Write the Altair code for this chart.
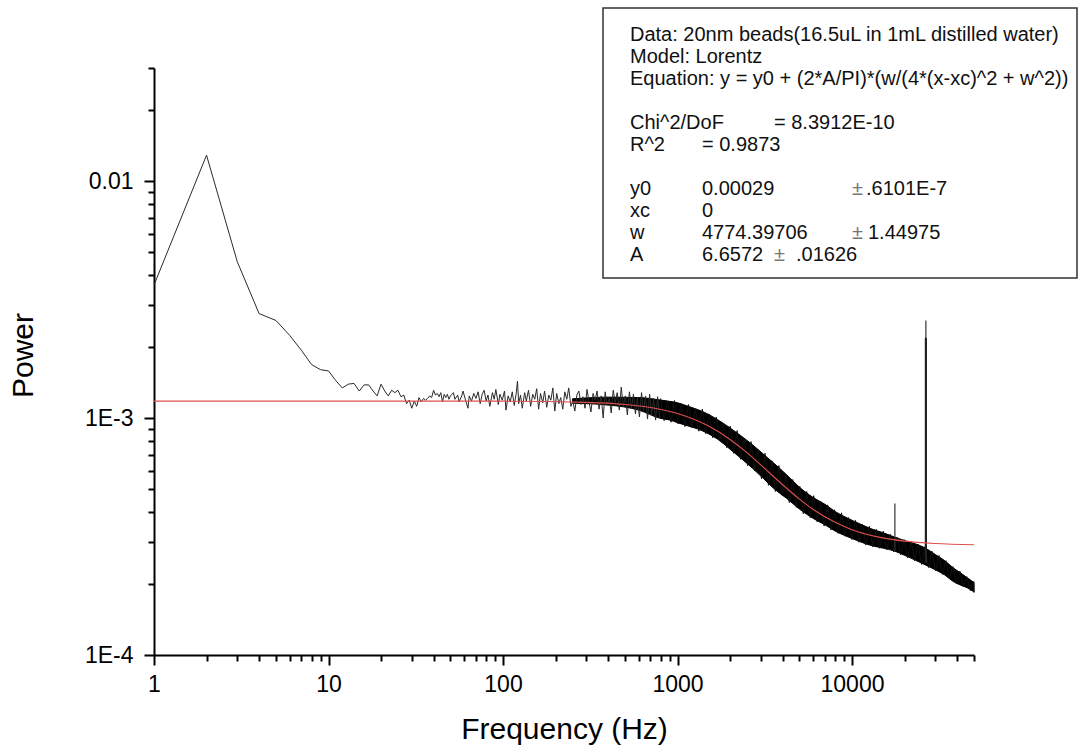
import altair as alt
import pandas as pd

# ---------------- data ----------------
low_freq = list(range(1, 51))
low_power = [3.64e-3, 1.286e-2, 4.57e-3, 2.76e-3, 2.58e-3, 2.23e-3, 1.93e-3, 1.68e-3, 1.60e-3, 1.58e-3,
             1.44e-3, 1.34e-3, 1.39e-3, 1.40e-3, 1.30e-3, 1.38e-3, 1.38e-3, 1.30e-3, 1.24e-3, 1.39e-3,
             1.30e-3, 1.24e-3, 1.31e-3, 1.28e-3, 1.31e-3, 1.23e-3, 1.25e-3, 1.15e-3, 1.19e-3, 1.10e-3,
             1.18e-3, 1.12e-3, 1.22e-3, 1.17e-3, 1.21e-3, 1.19e-3, 1.21e-3, 1.24e-3, 1.22e-3, 1.31e-3,
             1.25e-3, 1.27e-3, 1.23e-3, 1.28e-3, 1.17e-3, 1.26e-3, 1.22e-3, 1.26e-3, 1.20e-3, 1.24e-3]

mid_freq = [52, 53, 55, 56, 58, 59, 61, 63, 64, 66, 68, 70, 72, 74, 76, 78, 80, 82, 84, 87,
            89, 91, 94, 96, 99, 102, 104, 107, 110, 113, 116, 119, 121, 123, 126, 129, 133, 136, 140, 144,
            148, 152, 156, 160, 164, 169, 173, 178, 183, 188, 193, 198, 203, 209, 214, 220, 226, 232, 238, 245,
            251, 258, 265, 272, 280, 287, 295, 303, 311, 319, 328, 337, 346, 355, 365, 375, 385, 395, 406, 417,
            428, 440, 451, 464, 476, 489, 502, 516, 530, 544, 559, 574, 589, 605, 622, 638, 656, 673, 692, 710,
            729, 749, 769, 790]
mid_power = [1.28e-3, 1.20e-3, 1.25e-3, 1.17e-3, 1.24e-3, 1.30e-3, 1.19e-3, 1.10e-3, 1.24e-3, 1.18e-3,
             1.27e-3, 1.21e-3, 1.29e-3, 1.15e-3, 1.26e-3, 1.31e-3, 1.18e-3, 1.25e-3, 1.12e-3, 1.28e-3,
             1.20e-3, 1.32e-3, 1.14e-3, 1.26e-3, 1.19e-3, 1.30e-3, 1.08e-3, 1.24e-3, 1.17e-3, 1.29e-3,
             1.13e-3, 1.27e-3, 1.43e-3, 1.15e-3, 1.25e-3, 1.10e-3, 1.28e-3, 1.18e-3, 1.31e-3, 1.12e-3,
             1.26e-3, 1.20e-3, 1.33e-3, 1.09e-3, 1.27e-3, 1.16e-3, 1.30e-3, 1.11e-3, 1.25e-3, 1.19e-3,
             1.34e-3, 1.07e-3, 1.27e-3, 1.15e-3, 1.22e-3, 1.09e-3, 1.29e-3, 1.20e-3, 1.34e-3, 1.12e-3,
             1.18e-3, 1.07e-3, 1.25e-3, 1.30e-3, 1.14e-3, 1.23e-3, 1.10e-3, 1.32e-3, 1.17e-3, 1.06e-3,
             1.27e-3, 1.19e-3, 1.30e-3, 1.09e-3, 1.24e-3, 1.00e-3, 1.29e-3, 1.13e-3, 1.21e-3, 1.05e-3,
             1.31e-3, 1.16e-3, 1.28e-3, 1.08e-3, 1.35e-3, 1.12e-3, 1.24e-3, 1.03e-3, 1.29e-3, 1.10e-3,
             1.26e-3, 1.04e-3, 1.22e-3, 1.01e-3, 1.28e-3, 1.07e-3, 1.24e-3, 0.99e-3, 1.26e-3, 1.03e-3,
             1.21e-3, 0.98e-3, 1.23e-3, 1.00e-3]

hf_freq = [800, 838, 877, 918, 961, 1006, 1053, 1103, 1155, 1209, 1266, 1325, 1387, 1452, 1521, 1592,
           1667, 1745, 1827, 1913, 2003, 2097, 2196, 2299, 2407, 2520, 2638, 2762, 2892, 3028, 3170, 3319,
           3475, 3638, 3809, 3988, 4176, 4372, 4577, 4792, 5018, 5253, 5500, 5759, 6029, 6313, 6609, 6920,
           7245, 7585, 7942, 8315, 8706, 9115, 9543, 9992, 10461, 10953, 11468, 12007, 12571, 13162, 13781, 14428,
           15107, 15817, 16560, 17339, 18154, 19007, 19900, 20836, 21815, 22840, 23914, 25038, 26215, 27447, 28737, 30088,
           31502, 32982, 34532, 36155, 37855, 39634, 41497, 43447, 45489, 47627, 49866, 50000]
hf_power = [1.21e-3, 0.975e-3, 1.18e-3, 0.96e-3, 1.185e-3, 0.945e-3, 1.15e-3, 0.92e-3, 1.14e-3, 0.91e-3,
            1.09e-3, 0.88e-3, 1.09e-3, 0.86e-3, 1.04e-3, 0.825e-3, 1.01e-3, 0.80e-3, 0.95e-3, 0.75e-3,
            0.925e-3, 0.71e-3, 0.885e-3, 0.67e-3, 0.82e-3, 0.63e-3, 0.795e-3, 0.60e-3, 0.74e-3, 0.555e-3,
            0.71e-3, 0.52e-3, 0.66e-3, 0.49e-3, 0.63e-3, 0.47e-3, 0.58e-3, 0.44e-3, 0.55e-3, 0.42e-3,
            0.515e-3, 0.395e-3, 0.49e-3, 0.38e-3, 0.47e-3, 0.365e-3, 0.445e-3, 0.35e-3, 0.43e-3, 0.337e-3,
            0.41e-3, 0.326e-3, 0.398e-3, 0.317e-3, 0.38e-3, 0.307e-3, 0.37e-3, 0.299e-3, 0.356e-3, 0.291e-3,
            0.349e-3, 0.286e-3, 0.339e-3, 0.282e-3, 0.333e-3, 0.278e-3, 0.323e-3, 0.272e-3, 0.314e-3, 0.265e-3,
            0.307e-3, 0.257e-3, 0.302e-3, 0.25e-3, 0.294e-3, 0.241e-3, 0.287e-3, 0.234e-3, 0.274e-3, 0.227e-3,
            0.263e-3, 0.219e-3, 0.25e-3, 0.21e-3, 0.236e-3, 0.20e-3, 0.226e-3, 0.194e-3, 0.214e-3, 0.187e-3,
            0.204e-3, 0.183e-3]

band_freq = [250, 400, 600, 800, 900, 1000, 1150, 1300, 1500, 1700, 2000, 2300, 2700, 3100, 3600, 4200,
             5000, 6000, 7000, 8000, 9500, 11000, 13000, 15000, 17600, 20000, 23000, 26500, 30000, 34000,
             38000, 42000, 46000, 50000]
band_upper = [1.205e-3, 1.225e-3, 1.22e-3, 1.191e-3, 1.176e-3, 1.160e-3, 1.121e-3, 1.087e-3, 1.0376e-3, 0.9833e-3,
              0.9083e-3, 0.8436e-3, 0.7693e-3, 0.7051e-3, 0.6409e-3, 0.5782e-3, 0.5103e-3, 0.4616e-3, 0.4323e-3,
              0.4032e-3, 0.377e-3, 0.3585e-3, 0.340e-3, 0.3286e-3, 0.3142e-3, 0.3041e-3, 0.2948e-3, 0.2819e-3,
              0.2655e-3, 0.250e-3, 0.2332e-3, 0.2217e-3, 0.2112e-3, 0.2023e-3]
band_lower = [1.155e-3, 1.135e-3, 1.08e-3, 0.996e-3, 0.981e-3, 0.956e-3, 0.9255e-3, 0.900e-3, 0.8592e-3, 0.8135e-3,
              0.7385e-3, 0.678e-3, 0.6122e-3, 0.5565e-3, 0.5008e-3, 0.4593e-3, 0.4127e-3, 0.3767e-3, 0.3542e-3,
              0.3335e-3, 0.315e-3, 0.3016e-3, 0.2892e-3, 0.2827e-3, 0.2743e-3, 0.2634e-3, 0.2515e-3, 0.2394e-3,
              0.229e-3, 0.2176e-3, 0.2043e-3, 0.197e-3, 0.1917e-3, 0.1845e-3]

spike_freq = [17600, 26500]
spike_low = [2.75e-4, 2.45e-4]
spike_high = [4.36e-4, 2.58e-3]
thick_spike_freq = [26500]
thick_spike_low = [2.45e-4]
thick_spike_high = [2.18e-3]

fit_freq = [1, 10, 100, 300, 500, 700, 1000, 1500, 2000, 2500, 3000, 4000, 5000, 6000, 8000,
            10000, 15000, 20000, 30000, 50000]
fit_power = [1.178e-3, 1.178e-3, 1.178e-3, 1.164e-3, 1.141e-3, 1.108e-3, 1.046e-3, 0.927e-3, 0.812e-3,
             0.714e-3, 0.634e-3, 0.523e-3, 0.455e-3, 0.411e-3, 0.363e-3, 0.338e-3, 0.312e-3, 0.3025e-3,
             0.2956e-3, 0.292e-3]

x_ticks = [1, 2, 3, 4, 5, 6, 7, 8, 9, 10, 20, 30, 40, 50, 60, 70, 80, 90,
           100, 200, 300, 400, 500, 600, 700, 800, 900,
           1000, 2000, 3000, 4000, 5000, 6000, 7000, 8000, 9000,
           10000, 20000, 30000, 40000, 50000]
y_ticks = [0.0001, 0.0002, 0.0003, 0.0004, 0.0005, 0.0006, 0.0007, 0.0008, 0.0009,
           0.001, 0.002, 0.003, 0.004, 0.005, 0.006, 0.007, 0.008, 0.009,
           0.01, 0.02, 0.03]

ann_lines = [
    ("Data: 20nm beads(16.5uL in 1mL distilled water)", 630, 41),
    ("Model: Lorentz", 630, 63),
    ("Equation: y = y0 + (2*A/PI)*(w/(4*(x-xc)^2 + w^2))", 630, 85),
    ("Chi^2/DoF", 630, 129), ("= 8.3912E-10", 774, 129),
    ("R^2", 630, 151), ("=  0.9873", 702, 151),
    ("y0", 630, 195), ("0.00029", 702, 195), ("\u00b1", 852, 195), (".6101E-7", 866, 195),
    ("xc", 630, 217), ("0", 702, 217),
    ("w", 630, 239), ("4774.39706", 702, 239), ("\u00b1", 852, 239), ("1.44975", 868, 239),
    ("A", 630, 261), ("6.6572", 702, 261), ("\u00b1", 774, 261), (".01626", 796, 261),
]

FONT = "Liberation Sans"
W, H = 820, 587
LEFT, TOP = 154, 68

black_df = pd.DataFrame({"freq": low_freq + mid_freq, "power": low_power + mid_power})
hf_df = pd.DataFrame({"freq": hf_freq, "power": hf_power})
band_df = pd.DataFrame({"freq": band_freq, "upper": band_upper, "lower": band_lower})
spike_df = pd.DataFrame({"freq": spike_freq, "low": spike_low, "high": spike_high})
thick_df = pd.DataFrame({"freq": thick_spike_freq, "low": thick_spike_low, "high": thick_spike_high})
fit_df = pd.DataFrame({"freq": fit_freq, "power": fit_power})

x_scale = alt.Scale(type="log", domain=[1, 50000], nice=False)
y_scale = alt.Scale(type="log", domain=[0.0001, 0.03], nice=False)

x_axis = alt.Axis(
    values=x_ticks,
    labelExpr="indexof([1,10,100,1000,10000], datum.value) >= 0 ? '' + datum.value : ''",
    tickSize={"condition": {"test": "indexof([1,10,100,1000,10000], datum.value) >= 0", "value": 10}, "value": 6},
    tickColor="black", tickWidth=2, domainColor="black", domainWidth=2,
    labelFont=FONT, labelFontSize=23, labelColor="black", labelPadding=8,
    labelFlush=False, labelOverlap=False, grid=False,
    title="Frequency (Hz)", titleFont=FONT, titleFontSize=30, titleFontWeight="normal",
    titleColor="black", titleBaseline="alphabetic", titleY=83,
)
y_axis = alt.Axis(
    values=y_ticks,
    labelExpr="datum.value == 0.0001 ? '1E-4' : datum.value == 0.001 ? '1E-3' : datum.value == 0.01 ? '0.01' : ''",
    tickSize={"condition": {"test": "indexof([0.0001,0.001,0.01], datum.value) >= 0", "value": 10}, "value": 6},
    tickColor="black", tickWidth=2, domainColor="black", domainWidth=2,
    labelFont=FONT, labelFontSize=23, labelColor="black", labelPadding=11,
    labelOverlap=False, grid=False,
    title="Power", titleFont=FONT, titleFontSize=30, titleFontWeight="normal",
    titleColor="black", titleBaseline="alphabetic", titleX=-122, titleY=287, titleAngle=270,
)


def X(field="freq"):
    return alt.X(f"{field}:Q", scale=x_scale, axis=x_axis)


def Y(field):
    return alt.Y(f"{field}:Q", scale=y_scale, axis=y_axis)


band = alt.Chart(band_df).mark_area(color="black", opacity=1, stroke="black", strokeWidth=1,
                                    interpolate="monotone").encode(
    x=X(), y=Y("upper"), y2="lower:Q"
)
black_line = alt.Chart(black_df).mark_line(color="#2a2a2a", strokeWidth=1).encode(
    x=X(), y=Y("power")
)
hf_line = alt.Chart(hf_df).mark_line(color="#111111", strokeWidth=1).encode(
    x=X(), y=Y("power")
)
spikes = alt.Chart(spike_df).mark_rule(color="#333333", strokeWidth=1.2).encode(
    x=X(), y=Y("low"), y2="high:Q"
)
thick_spike = alt.Chart(thick_df).mark_rule(color="#222222", strokeWidth=2.2).encode(
    x=X(), y=Y("low"), y2="high:Q"
)
fit = alt.Chart(fit_df).mark_line(color="#e0504e", strokeWidth=1.1, interpolate="monotone").encode(
    x=X(), y=Y("power")
)

one = pd.DataFrame({"k": [0]})
box = alt.Chart(one).mark_rect(fill="white", stroke="#333333", strokeWidth=1.5).encode(
    x=alt.value(603 - LEFT), x2=alt.value(1077 - LEFT),
    y=alt.value(8 - TOP), y2=alt.value(278 - TOP),
)
texts = []
for txt, xa, ya in ann_lines:
    col = "#777777" if txt == "\u00b1" else "#111111"
    texts.append(
        alt.Chart(one).mark_text(
            text=txt, font=FONT, fontSize=20, align="left", baseline="alphabetic", color=col
        ).encode(x=alt.value(xa - LEFT), y=alt.value(ya - TOP))
    )

chart = alt.layer(band, black_line, hf_line, spikes, thick_spike, fit, box, *texts).properties(
    width=W, height=H,
    padding={"left": LEFT, "top": TOP, "right": 1082 - LEFT - W, "bottom": 746 - TOP - H},
    autosize=alt.AutoSizeParams(type="none"),
    background="white",
).configure_view(stroke=None)

chart.save("out.html", embed_options={"renderer": "svg", "actions": False})
